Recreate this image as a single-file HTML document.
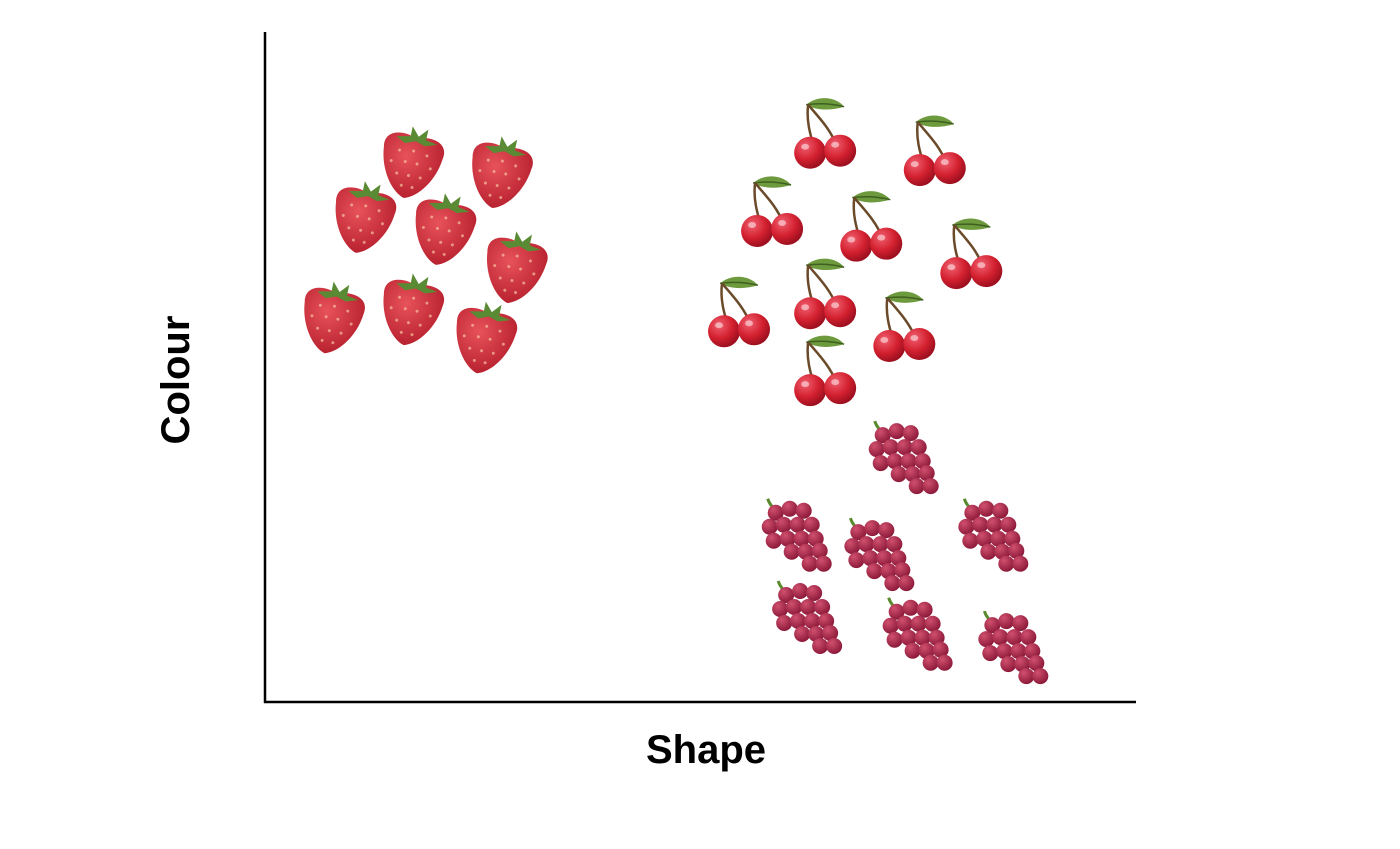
<!DOCTYPE html>
<html><head><meta charset="utf-8"><style>
html,body{margin:0;padding:0;background:#fff;width:1400px;height:849px;overflow:hidden}
svg{display:block}
text{font-family:"Liberation Sans",sans-serif;font-weight:bold;fill:#000}
</style></head><body>
<svg id="chart" width="1400" height="849" viewBox="0 0 1400 849">
<defs>
<radialGradient id="sg" cx="40%" cy="35%" r="70%"><stop offset="0" stop-color="#e8525a"/><stop offset="1" stop-color="#b51e2c"/></radialGradient>
<radialGradient id="cg" cx="35%" cy="30%" r="70%"><stop offset="0" stop-color="#f06070"/><stop offset="0.6" stop-color="#d3202f"/><stop offset="1" stop-color="#9e1020"/></radialGradient>
<radialGradient id="gg" cx="35%" cy="30%" r="70%"><stop offset="0" stop-color="#d0506e"/><stop offset="1" stop-color="#8e1a3a"/></radialGradient>
<symbol id="strawberry" viewBox="-36 -40 72 80" overflow="visible">
<g transform="rotate(12)">
<path d="M-30,-10 C-34,-30 -8,-30 0,-24 C8,-30 34,-30 30,-10 C28,12 14,32 0,36 C-14,32 -28,12 -30,-10Z" fill="url(#sg)"/>
<g fill="#f6c2a0" opacity="0.7"><circle cx="-14" cy="-10" r="1.5"/><circle cx="0" cy="-12" r="1.5"/><circle cx="14" cy="-10" r="1.5"/><circle cx="-20" cy="2" r="1.5"/><circle cx="-6" cy="0" r="1.5"/><circle cx="6" cy="0" r="1.5"/><circle cx="20" cy="2" r="1.5"/><circle cx="-12" cy="13" r="1.5"/><circle cx="0" cy="13" r="1.5"/><circle cx="12" cy="13" r="1.5"/><circle cx="-5" cy="24" r="1.5"/><circle cx="6" cy="24" r="1.5"/></g>
<path d="M-20,-23 L-6,-26 L-6,-36 L2,-27 L10,-36 L10,-25 L22,-23 L10,-19 L0,-22 L-10,-18Z" fill="#5a8a34"/>
</g>
</symbol>
<symbol id="cherry" viewBox="-36 -36 72 72" overflow="visible">
<path d="M-20,-30 C-8,-40 10,-38 18,-28 C4,-24 -10,-24 -20,-30Z" fill="#6e9a3e"/>
<path d="M-20,-30 C-5,-32 6,-31 18,-28" stroke="#3f6020" stroke-width="1.5" fill="none"/>
<path d="M-18,-30 C-20,-14 -16,0 -12,12 M-18,-30 C-8,-18 4,-6 10,10" stroke="#6b4a2a" stroke-width="2.5" fill="none"/>
<circle cx="-16" cy="18" r="16" fill="url(#cg)"/>
<circle cx="14" cy="16" r="16" fill="url(#cg)"/>
<ellipse cx="-21" cy="12" rx="4" ry="3" fill="#fff" opacity="0.5"/>
<ellipse cx="9" cy="10" rx="4" ry="3" fill="#fff" opacity="0.5"/>
</symbol>
<symbol id="grape" viewBox="-38 -40 76 80" overflow="visible">
<path d="M-28,-34 C-26,-28 -22,-24 -18,-22" stroke="#5a8a2e" stroke-width="3" fill="none"/>
<g fill="url(#gg)">
<circle cx="-20" cy="-20" r="8"/><circle cx="-6" cy="-24" r="8"/><circle cx="8" cy="-22" r="8"/>
<circle cx="-26" cy="-6" r="8"/><circle cx="-12" cy="-8" r="8"/><circle cx="2" cy="-8" r="8"/><circle cx="16" cy="-8" r="8"/>
<circle cx="-22" cy="8" r="8"/><circle cx="-8" cy="6" r="8"/><circle cx="6" cy="6" r="8"/><circle cx="20" cy="6" r="8"/>
<circle cx="-4" cy="19" r="8"/><circle cx="10" cy="19" r="8"/><circle cx="24" cy="18" r="8"/>
<circle cx="14" cy="31" r="8"/><circle cx="28" cy="31" r="8"/>
</g>
</symbol>
</defs>
<line x1="265" y1="32" x2="265" y2="703" stroke="#000" stroke-width="2.5"/>
<line x1="264" y1="702" x2="1136" y2="702" stroke="#000" stroke-width="2.5"/>
<text x="706" y="763" font-size="40" text-anchor="middle">Shape</text>
<text transform="translate(189,380) rotate(-90)" font-size="40" text-anchor="middle">Colour</text>
<g id="marks"></g>
</svg>
<script>
var strawberryX=[16.8,27.0,11.3,20.5,28.7,7.7,16.8,25.2];
var strawberryY=[80.6,79.1,72.4,70.6,64.9,57.4,58.6,54.4];
var cherryX=[64.5,77.1,58.4,69.8,81.3,54.6,64.5,73.6,64.5];
var cherryY=[84.8,82.2,73.1,70.9,66.8,58.1,60.8,55.9,49.3];
var grapeX=[73.3,61.0,70.5,83.6,62.2,74.9,85.9];
var grapeY=[36.9,25.3,22.4,25.3,13.0,10.5,8.5];
function sx(v){return 265+v*8.7;}
function sy(v){return 702-v*6.69;}
var NS="http://www.w3.org/2000/svg";
var g=document.getElementById('marks');
function draw(xs,ys,sym,w,h,name){
  for(var i=0;i<xs.length;i++){
    var u=document.createElementNS(NS,'use');
    u.setAttribute('href','#'+sym);
    u.setAttribute('x',sx(xs[i])-w/2);
    u.setAttribute('y',sy(ys[i])-h/2);
    u.setAttribute('width',w);
    u.setAttribute('height',h);
    
    
    g.appendChild(u);
  }
}
draw(strawberryX,strawberryY,'strawberry',72,80,'strawberry-point');
draw(cherryX,cherryY,'cherry',72,72,'cherry-point');
draw(grapeX,grapeY,'grape',76,80,'grape-point');
</script>
</body></html>
